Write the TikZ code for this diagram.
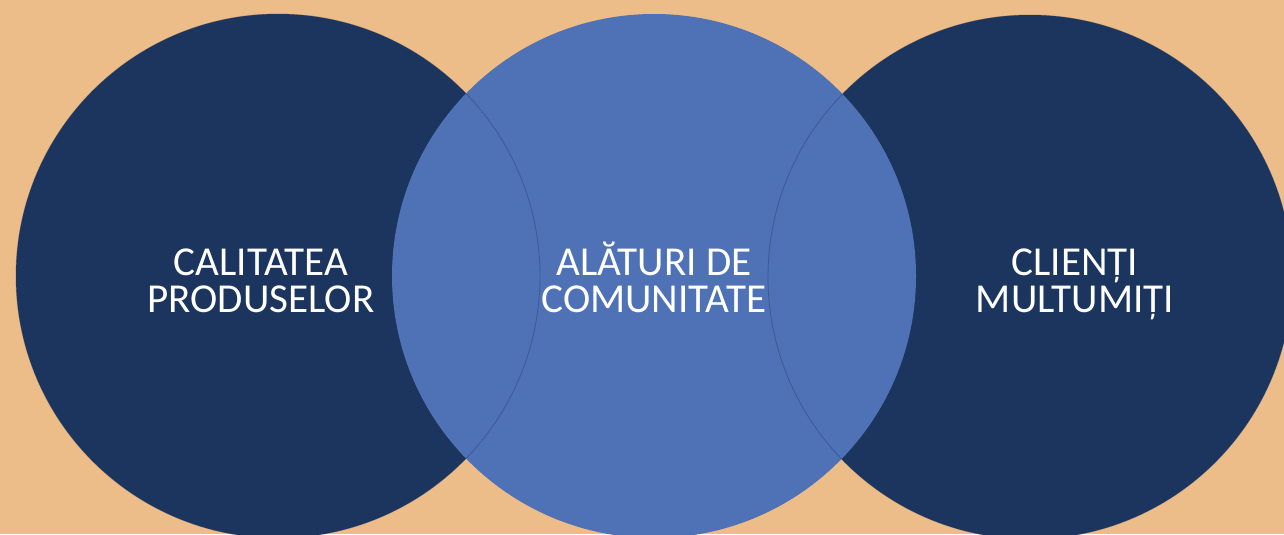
\documentclass[tikz,border=0pt]{standalone}
\usepackage{fontspec}
\setmainfont{Carlito}
\usepackage{tikz}
\definecolor{bgorange}{RGB}{236,189,136}
\definecolor{navy}{RGB}{28,53,94}
\definecolor{midblue}{RGB}{79,113,181}
\tikzstyle{every node}=[font=\fontsize{23.4}{21}\selectfont,text=white,align=center,inner sep=0pt,anchor=base]
\tikzstyle{sidedisc}=[fill=navy]
\tikzstyle{middisc}=[fill=midblue]
\tikzstyle{rim}=[draw=navy,draw opacity=0.35,line width=0.5pt]

\begin{document}
\begin{tikzpicture}[x=0.02cm,y=-0.02cm]
\fill[bgorange] (0,0) rectangle (1284,534);
\useasboundingbox (0,0) rectangle (1284,534);
\clip (0,0) rectangle (1284,534);
% circle centres
\coordinate (lc) at (278,276);
\coordinate (mc) at (654,276);
\coordinate (rc) at (1030,277);
\path[sidedisc] (lc) circle (262);
\path[sidedisc] (rc) circle (262);
\path[middisc] (mc) circle (262);
\path[rim] (lc) circle (262);
\path[rim] (rc) circle (262);
% labels
\node (calitatea) at (261,312) {CALITATEA\\PRODUSELOR};
\node (alaturi) at (654,312) {ALĂTURI DE\\COMUNITATE};
\node (clienti) at (1075,312) {CLIENȚI\\MULTUMIȚI};
\end{tikzpicture}
\end{document}
